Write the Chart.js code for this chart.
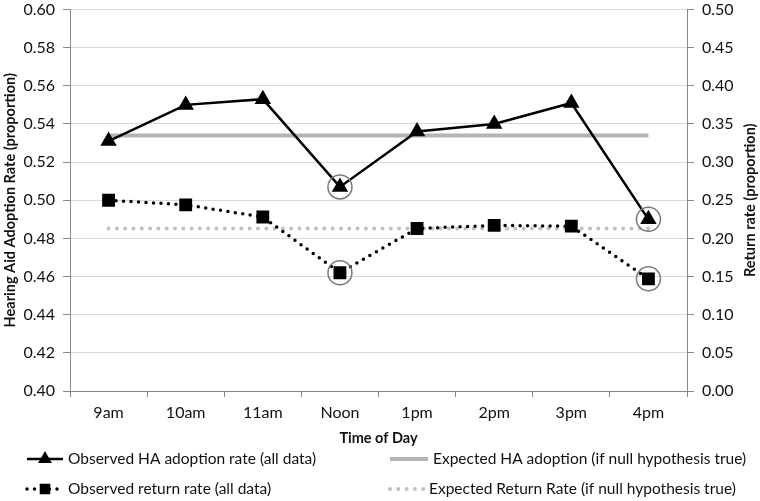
<!DOCTYPE html>
<html>
<head>
<meta charset="utf-8">
<script src="https://cdn.jsdelivr.net/npm/chart.js@4.4.1/dist/chart.umd.min.js"></script>
<style>
  html, body { margin: 0; padding: 0; background: #fff; }
  #wrap { width: 760px; height: 501px; position: relative; }
</style>
</head>
<body>
<div id="wrap"><canvas id="chart"></canvas></div>
<script>
// data
const times = ['9am', '10am', '11am', 'Noon', '1pm', '2pm', '3pm', '4pm'];
const haAdoption = [0.531, 0.550, 0.553, 0.507, 0.536, 0.540, 0.551, 0.490];
const returnRate = [0.250, 0.244, 0.228, 0.155, 0.213, 0.217, 0.216, 0.147];
const expectedHA = [0.534, 0.534, 0.534, 0.534, 0.534, 0.534, 0.534, 0.534];
const expectedReturn = [0.213, 0.213, 0.213, 0.213, 0.213, 0.213, 0.213, 0.213];
const circled = [3, 7]; // Noon and 4pm are ringed in the figure
const seriesLabels = [
  'Observed HA adoption rate (all data)',
  'Expected HA adoption (if null hypothesis true)',
  'Observed return rate (all data)',
  'Expected Return Rate (if null hypothesis true)'
];
const leftTitle = 'Hearing Aid Adoption Rate (proportion)';
const rightTitle = 'Return rate (proportion)';
const xTitle = 'Time of Day';

const FONT = 'Lato';
const TEXT = '#111';
const AXIS = '#888';

function pick(arr) {
  return arr.map((v, i) => circled.includes(i) ? v : null);
}

// legend drawn by hand so it sits in the 2 x 2 grid like the original
const legendPlugin = {
  id: 'gridLegend',
  afterDraw(chart) {
    const ctx = chart.ctx;
    const ds = chart.data.datasets;
    const cells = [
      { d: ds[0], x: 27, y: 459, r: 5.5 },
      { d: ds[1], x: 390, y: 459, w: 38 },
      { d: ds[2], x: 27, y: 489, r: 5 },
      { d: ds[3], x: 390, y: 489, w: 34 }
    ];
    ctx.save();
    cells.forEach((c, i) => {
      const w = c.w || 36;
      ctx.beginPath();
      ctx.strokeStyle = c.d.borderColor;
      ctx.lineWidth = c.d.borderWidth;
      ctx.lineCap = c.d.borderCapStyle || 'butt';
      ctx.setLineDash(c.d.borderDash || []);
      ctx.moveTo(c.x, c.y);
      ctx.lineTo(c.x + w, c.y);
      ctx.stroke();
      ctx.setLineDash([]);
      if (c.r) {
        ctx.fillStyle = c.d.pointBackgroundColor;
        ctx.strokeStyle = c.d.pointBorderColor;
        Chart.helpers.drawPoint(ctx, {
          pointStyle: c.d.pointStyle,
          radius: c.r,
          borderWidth: 1,
          rotation: 0
        }, c.x + w / 2, c.y);
      }
      ctx.fillStyle = TEXT;
      ctx.font = '15.5px ' + FONT;
      ctx.textBaseline = 'middle';
      ctx.textAlign = 'left';
      ctx.fillText(seriesLabels[i], c.x + w + 5, c.y);
    });

    // right axis title reads bottom-to-top in the original
    const a = chart.chartArea;
    ctx.translate(750, (a.top + a.bottom) / 2);
    ctx.rotate(-Math.PI / 2);
    ctx.font = 'bold 14.5px ' + FONT;
    ctx.textAlign = 'center';
    ctx.textBaseline = 'middle';
    ctx.fillText(rightTitle, 0, 0);
    ctx.restore();
  }
};

// pin the plot box to where the original has it
function fitY(width) {
  return s => {
    s.width = width;
    s.paddingTop = 9.5;
    s.paddingBottom = 0;
  };
}

new Chart(document.getElementById('chart'), {
  type: 'line',
  data: {
    labels: times,
    datasets: [
      {
        label: seriesLabels[0],
        data: haAdoption,
        yAxisID: 'y',
        borderColor: '#000',
        borderWidth: 2.5,
        pointStyle: 'triangle',
        pointRadius: 7,
        pointBackgroundColor: '#000',
        pointBorderColor: '#000',
        tension: 0,
        order: 1
      },
      {
        label: seriesLabels[1],
        data: expectedHA,
        yAxisID: 'y',
        borderColor: '#b4b4b4',
        borderWidth: 4,
        pointRadius: 0,
        order: 4
      },
      {
        label: seriesLabels[2],
        data: returnRate,
        yAxisID: 'y1',
        borderColor: '#000',
        borderWidth: 3.5,
        borderDash: [0, 7.5],
        borderCapStyle: 'round',
        pointStyle: 'rect',
        pointRadius: 6.6,
        pointBackgroundColor: '#000',
        pointBorderColor: '#000',
        order: 2
      },
      {
        label: seriesLabels[3],
        data: expectedReturn,
        yAxisID: 'y1',
        borderColor: '#c0c0c0',
        borderWidth: 4,
        borderDash: [0, 8.3],
        borderCapStyle: 'round',
        pointRadius: 0,
        order: 5
      },
      {
        label: 'ring HA',
        data: pick(haAdoption),
        yAxisID: 'y',
        showLine: false,
        pointStyle: 'circle',
        pointRadius: 12,
        pointBackgroundColor: 'rgba(0,0,0,0)',
        pointBorderColor: '#7a7a7a',
        pointBorderWidth: 1.5,
        order: 0
      },
      {
        label: 'ring return',
        data: pick(returnRate),
        yAxisID: 'y1',
        showLine: false,
        pointStyle: 'circle',
        pointRadius: 12,
        pointBackgroundColor: 'rgba(0,0,0,0)',
        pointBorderColor: '#7a7a7a',
        pointBorderWidth: 1.5,
        order: 0
      }
    ]
  },
  options: {
    responsive: true,
    maintainAspectRatio: false,
    animation: false,
    layout: { autoPadding: false, padding: { top: 0, bottom: 50, left: 0, right: 0 } },
    plugins: {
      legend: { display: false },
      tooltip: { enabled: false }
    },
    scales: {
      x: {
        offset: true,
        afterFit(s) { s.height = 60; s.paddingLeft = 0; s.paddingRight = 0; },
        grid: { offset: true, drawOnChartArea: false, color: AXIS, tickLength: 6 },
        border: { color: AXIS },
        ticks: { color: TEXT, font: { family: FONT, size: 16 }, padding: 6 },
        title: {
          display: true, text: xTitle, color: TEXT,
          font: { family: FONT, size: 14.5, weight: 'bold' },
          padding: { top: 2, bottom: 4 }
        }
      },
      y: {
        position: 'left',
        min: 0.40, max: 0.60,
        afterFit: fitY(70),
        grid: { color: '#d9d9d9', tickColor: AXIS, tickLength: 7 },
        border: { color: AXIS },
        ticks: {
          stepSize: 0.02, color: TEXT, padding: 8,
          font: { family: FONT, size: 16 },
          callback: v => v.toFixed(2)
        },
        title: {
          display: true, text: leftTitle, color: TEXT,
          font: { family: FONT, size: 14.5, weight: 'bold' },
          padding: { top: 2, bottom: 0 }
        }
      },
      y1: {
        position: 'right',
        min: 0, max: 0.50,
        afterFit: fitY(73),
        grid: { drawOnChartArea: false, color: AXIS, tickLength: 7 },
        border: { color: AXIS },
        ticks: {
          stepSize: 0.05, color: TEXT, padding: 8,
          font: { family: FONT, size: 16 },
          callback: v => v.toFixed(2)
        }
      }
    }
  },
  plugins: [legendPlugin]
});
</script>
</body>
</html>
